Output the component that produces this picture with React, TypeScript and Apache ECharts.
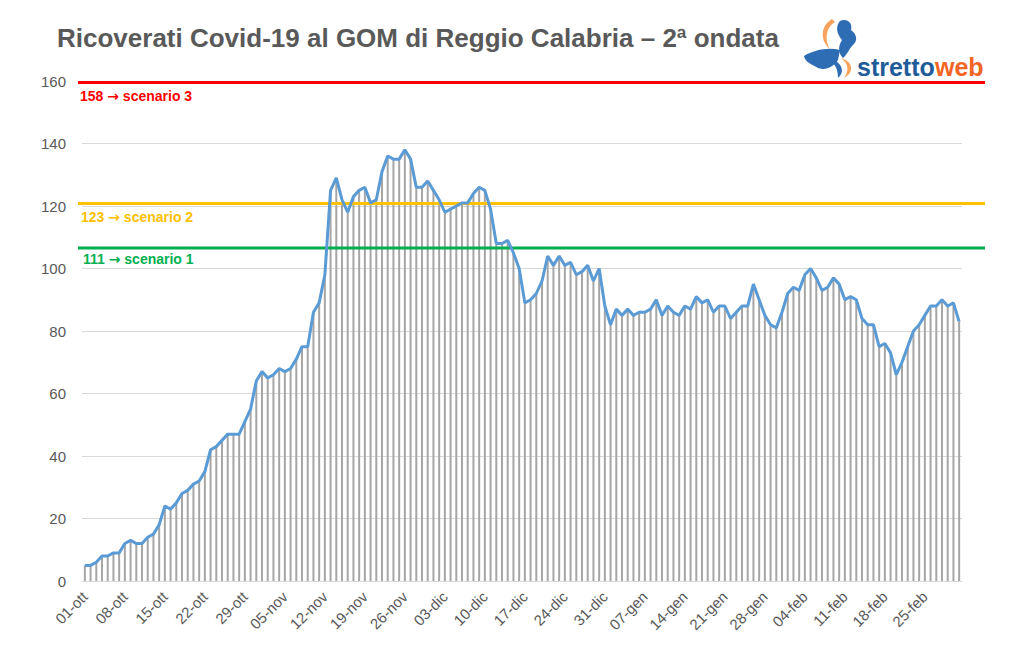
import React, { useEffect, useRef } from "react";
import * as echarts from "echarts";

// Category construction (Oct 1 2020 -> Mar 3 2021)
const monthNames = ["ott", "nov", "dic", "gen", "feb", "mar"];
const monthDays = [31, 30, 31, 31, 28, 3];

// Daily hospitalised patients
const ricoverati = [
  5, 5, 6, 8, 8, 9, 9, 12, 13, 12, 12, 14, 15, 18, 24, 23, 25, 28, 29, 31, 32, 35, 42, 43, 45, 47,
  47, 47, 51, 55, 64, 67, 65, 66, 68, 67, 68, 71, 75, 75, 86, 89, 98, 125, 129, 122, 118, 123, 125, 126,
  121, 122, 131, 136, 135, 135, 138, 135, 126, 126, 128, 125, 122, 118, 119, 120, 121, 121, 124, 126, 125, 119, 108, 108, 109, 105, 100,
  89, 90, 92, 96, 104, 101, 104, 101, 102, 98, 99, 101, 96, 100, 88, 82, 87, 85, 87, 85, 86, 86, 87, 90, 85, 88, 86, 85, 88, 87, 91, 89, 90, 86, 88, 88,
  84, 86, 88, 88, 95, 90, 85, 82, 81, 86, 92, 94, 93, 98, 100, 97, 93, 94, 97, 95, 90, 91, 90, 84, 82, 82, 75, 76, 73, 66, 70, 75, 80, 82, 85, 88, 88, 90, 88, 89, 83,
];

// Scenario thresholds: label parts and drawn level on the axis
const scenarioNumbers = ["158", "123", "111"];
const scenarioNames = ["scenario 3", "scenario 2", "scenario 1"];
const scenarioLevels = [159.5, 120.8, 106.6];
const scenarioColors = ["#ff0000", "#ffc000", "#00b050"];

const yTicks = { min: 0, max: 160, interval: 20 };

function buildCategories(): string[] {
  const out: string[] = [];
  monthNames.forEach((m, i) => {
    for (let d = 1; d <= monthDays[i]; d++) {
      out.push((d < 10 ? "0" : "") + d + "-" + m);
    }
  });
  return out;
}

const logoPaths = {
  logoSicily: "M804,56 C814,50 828,47 840,50 L838,60 C833,67 826,71 818,68 C811,64 805,62 804,56 Z",
  logoCalabria: "M840,21 C847,18 853,23 851,30 C857,34 858,41 853,45 C849,49 847,55 843,58 C838,53 838,46 842,40 C837,34 835,27 840,21 Z",
  logoOrangeA: "M832,19 C820,26 820,41 830,49 C825,41 825,28 835,22 Z",
  logoOrangeB: "M841,58 C854,62 854,73 844,78 C849,71 849,64 841,58 Z",
  logoBlueB: "M836,61 C843,66 844,73 838,78 C838,71 836,66 833,63 Z",
};
let registered = false;
function registerLogo() {
  if (registered) return;
  registered = true;
  Object.entries(logoPaths).forEach(([name, d]) => {
    echarts.graphic.registerShape(name, echarts.graphic.extendPath(d, {}) as any);
  });
}

export default function App() {
  const ref = useRef<HTMLDivElement>(null);
  useEffect(() => {
    document.body.style.margin = "0";
    registerLogo();
    const chart = echarts.init(ref.current!, null, { renderer: "svg" });
    const categories = buildCategories();
    const font = "'Liberation Sans', Arial, sans-serif";
    const labelYs = [96, 217, 259];
    const labelXs = [80, 81, 83];

    const option: any = {
      animation: false,
      backgroundColor: "#ffffff",
      grid: [
        { left: 82, right: 62, top: 81, bottom: 71 },
        { left: 78, right: 39, top: 81, bottom: 71 },
      ],
      xAxis: [
        {
          type: "category",
          data: categories,
          boundaryGap: true,
          axisLine: { lineStyle: { color: "#d9d9d9", width: 1 } },
          axisTick: { show: false },
          axisLabel: {
            interval: 6,
            rotate: 45,
            color: "#595959",
            fontSize: 15,
            fontFamily: font,
            margin: 13,
          },
          splitLine: { show: false },
        },
        { type: "value", gridIndex: 1, min: 0, max: 1, show: false },
      ],
      yAxis: [
        {
          type: "value",
          min: yTicks.min,
          max: yTicks.max,
          interval: yTicks.interval,
          axisLine: { show: false },
          axisTick: { show: false },
          axisLabel: { color: "#595959", fontSize: 15, fontFamily: font, margin: 16 },
          splitLine: { lineStyle: { color: "#d9d9d9", width: 1 } },
        },
        { type: "value", gridIndex: 1, min: yTicks.min, max: yTicks.max, show: false },
      ],
      series: [
        {
          type: "bar",
          data: ricoverati,
          barWidth: 2,
          itemStyle: { color: "#a6a6a6" },
          z: 2,
        },
        ...scenarioLevels.map((lv, i) => ({
          type: "line",
          xAxisIndex: 1,
          yAxisIndex: 1,
          data: [
            [0, lv],
            [1, lv],
          ],
          symbol: "none",
          lineStyle: { color: scenarioColors[i], width: 3 },
          z: 3,
          silent: true,
        })),
        {
          type: "line",
          data: ricoverati,
          symbol: "none",
          lineStyle: { color: "#5b9bd5", width: 3 },
          z: 4,
        },
      ],
      graphic: [
        {
          type: "text",
          left: 57,
          top: 25,
          style: {
            text: "Ricoverati Covid-19 al GOM di Reggio Calabria – 2ª ondata",
            fill: "#595959",
            font: "bold 26px " + font,
          },
        },
        ...scenarioNumbers.map((n, i) => ({
          type: "text",
          x: labelXs[i],
          y: labelYs[i],
          style: {
            text: "{n|" + n + " }{a|→}{n| " + scenarioNames[i] + "}",
            fill: scenarioColors[i],
            verticalAlign: "middle",
            rich: {
              n: { font: "bold 14px " + font, fill: scenarioColors[i] },
              a: { font: "bold 14px 'DejaVu Sans', sans-serif", fill: scenarioColors[i] },
            },
          },
          z: 10,
        })),
        { type: "logoSicily", x: 0, y: 0, style: { fill: "#2e6db4" } },
        { type: "logoCalabria", x: 0, y: 0, style: { fill: "#2e6db4" } },
        { type: "logoBlueB", x: 0, y: 0, style: { fill: "#2e6db4" } },
        { type: "logoOrangeA", x: 0, y: 0, style: { fill: "#f7a35c" } },
        { type: "logoOrangeB", x: 0, y: 0, style: { fill: "#f7a35c" } },
        {
          type: "text",
          x: 857,
          y: 54,
          style: {
            text: "stretto",
            fill: "#1f5c99",
            font: "bold 25px " + font,
            verticalAlign: "alphabetic",
          },
        },
        {
          type: "text",
          x: 935,
          y: 54,
          style: {
            text: "web",
            fill: "#f26522",
            font: "bold 25px " + font,
            verticalAlign: "alphabetic",
          },
        },
      ],
    };
    chart.setOption(option);
    return () => chart.dispose();
  }, []);
  return <div ref={ref} style={{ width: 1024, height: 652 }} />;
}
